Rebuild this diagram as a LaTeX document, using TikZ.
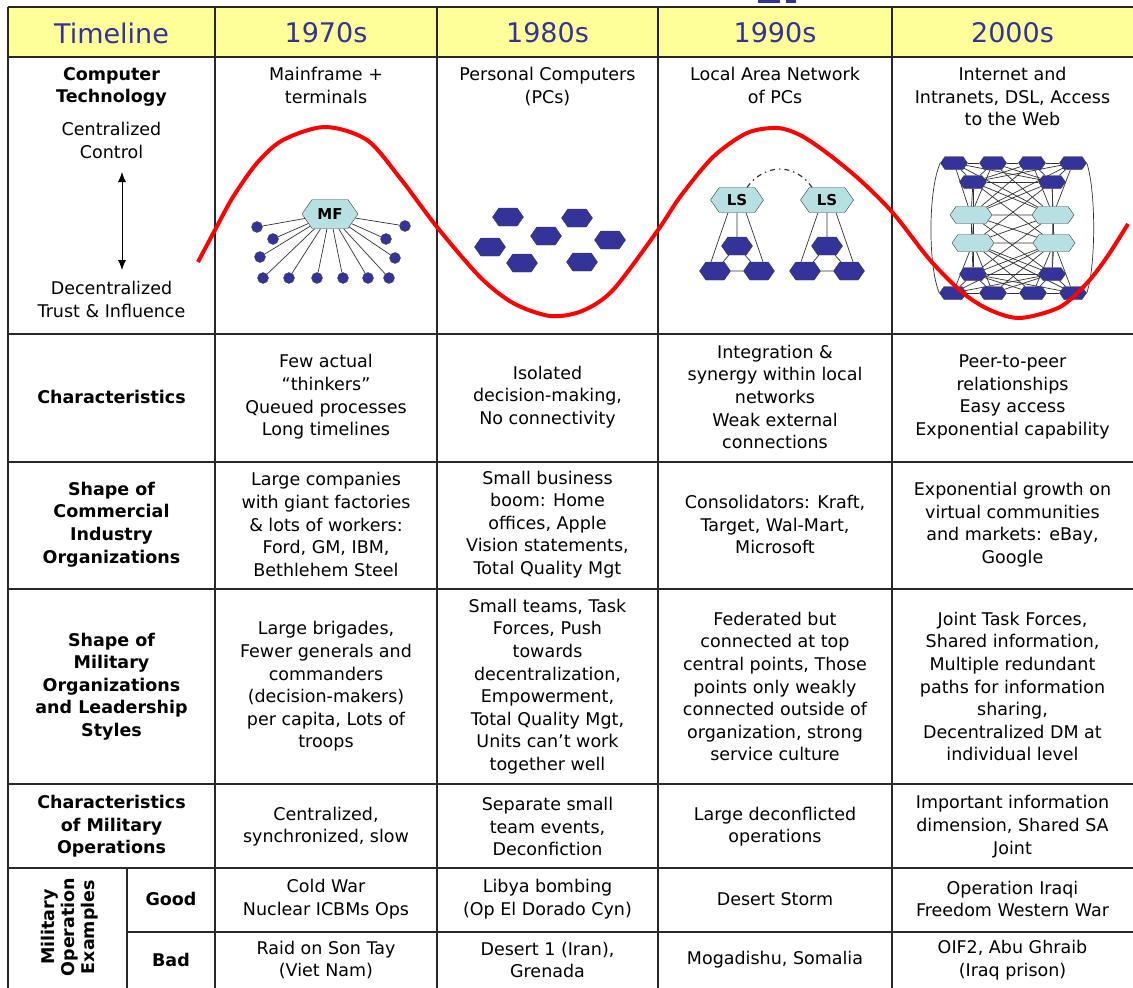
\documentclass[tikz,border=0pt]{standalone}
\usepackage{fontspec}
\setmainfont{DejaVu Sans}
\usetikzlibrary{shapes.symbols,arrows.meta}
\definecolor{headyellow}{RGB}{255,255,153}
\definecolor{headblue}{RGB}{51,51,153}
\definecolor{pcblue}{RGB}{51,51,153}
\definecolor{lsblue}{RGB}{183,224,226}
\definecolor{gridgray}{RGB}{40,40,40}
\pgfdeclarelayer{bg}
\pgfsetlayers{bg,main}

\begin{document}
\begin{tikzpicture}[x=1pt,y=-1pt,
	txt/.style={align=center,inner sep=0pt,font=\fontsize{17.5}{22.6}\selectfont},
	rowhead/.style={align=center,inner sep=0pt,font=\bfseries\fontsize{17.5}{22.6}\selectfont},
	year/.style={inner sep=0pt,text=headblue,font=\fontsize{27}{30}\selectfont},
	grid/.style={gridgray,line width=1.4pt},
	hex/.style={signal,signal to=east and west,signal pointer angle=110,draw=black!75,inner sep=0pt},
	pc/.style={hex,fill=pcblue,minimum width=31pt,minimum height=18pt},
	mh/.style={hex,fill=pcblue,minimum width=27pt,minimum height=13pt},
	lh/.style={hex,fill=lsblue,minimum width=42pt,minimum height=17pt},
	ls/.style={hex,fill=lsblue,minimum width=53pt,minimum height=25pt,font=\bfseries\fontsize{15}{15}\selectfont},
	term/.style={circle,fill=pcblue,draw=black!70,minimum size=11pt,inner sep=0pt},
	link/.style={black!80,line width=0.7pt}]
	\useasboundingbox (0,0) rectangle (1133,988);
	\begin{pgfonlayer}{bg}
		\fill[white] (0,0) rectangle (1133,988);
		\fill[headyellow] (8,7) rectangle (1133,57);
	\end{pgfonlayer}
	\fill[headblue] (758,0) rectangle (780,3);
	\fill[headblue] (786,0) rectangle (796,3);
	
	\node[year] (h0) at (111.5,33) {Timeline};
	\node[year] (h1) at (326,33) {1970s};
	\node[year] (h2) at (547.5,33) {1980s};
	\node[year] (h3) at (775,33) {1990s};
	\node[year] (h4) at (1012.5,33) {2000s};
	
	\node[rowhead,anchor=north] (comp) at (111.5,67) {Computer\\Technology};
	\node[txt,anchor=north] (cent) at (111.5,122) {Centralized\\Control};
	\node[txt,anchor=north] (decent) at (111.5,281) {Decentralized\\Trust \& Influence};
	\coordinate (up) at (122,172);
	\coordinate (down) at (122,270);
	\draw[thick,{Latex[length=10pt,width=8pt]}-{Latex[length=10pt,width=8pt]}] (up) -- (down);
	\node[txt,anchor=north] (tech1) at (326,67) {Mainframe +\\terminals};
	\node[txt,anchor=north] (tech2) at (547.5,67) {Personal Computers\\(PCs)};
	\node[txt,anchor=north] (tech3) at (775,67) {Local Area Network\\of PCs};
	\node[txt,anchor=north] (tech4) at (1012.5,67) {Internet and\\Intranets, DSL, Access\\to the Web};
	
	\node[hex,fill=lsblue,minimum width=56pt,minimum height=29pt,font=\bfseries\fontsize{15}{15}\selectfont] (mf) at (330,214) {MF};
	\node[term] (d1) at (257,227) {};
	\node[term] (d2) at (273,239) {};
	\node[term] (d3) at (260,257) {};
	\node[term] (d4) at (263,278) {};
	\node[term] (d5) at (289,278) {};
	\node[term] (d6) at (317,278) {};
	\node[term] (d7) at (343,278) {};
	\node[term] (d8) at (368,278) {};
	\node[term] (d9) at (389,278) {};
	\node[term] (d10) at (395,258) {};
	\node[term] (d11) at (386,239) {};
	\node[term] (d12) at (405,226) {};
	\begin{pgfonlayer}{bg}
		\foreach \d in {d1,d2,d3,d4,d5,d6,d7,d8,d9,d10,d11,d12}
			\draw[link] (mf) -- (\d);
	\end{pgfonlayer}
	
	\node[pc] (p1) at (508,217) {};
	\node[pc] (p2) at (577,218) {};
	\node[pc] (p3) at (546,236) {};
	\node[pc] (p4) at (490,247) {};
	\node[pc] (p5) at (610,240) {};
	\node[pc] (p6) at (522,263) {};
	\node[pc] (p7) at (582,262) {};
	
	\node[ls] (ls1) at (737,200) {LS};
	\node[pc] (a1) at (737,246) {};
	\node[pc] (a2) at (715,271) {};
	\node[pc] (a3) at (759,271) {};
	\node[ls] (ls2) at (827,200) {LS};
	\node[pc] (b1) at (827,246) {};
	\node[pc] (b2) at (805,271) {};
	\node[pc] (b3) at (849,271) {};
	\begin{pgfonlayer}{bg}
		\draw[link] ([xshift=-9pt]ls1.south) -- ([xshift=-4pt]a2.north);
		\draw[link] (ls1) -- (a1);
		\draw[link] ([xshift=9pt]ls1.south) -- ([xshift=4pt]a3.north);
		\draw[link] (a1) -- (a2) -- (a3) -- (a1);
		\draw[link] ([xshift=-9pt]ls2.south) -- ([xshift=-4pt]b2.north);
		\draw[link] (ls2) -- (b1);
		\draw[link] ([xshift=9pt]ls2.south) -- ([xshift=4pt]b3.north);
		\draw[link] (b1) -- (b2) -- (b3) -- (b1);
	\end{pgfonlayer}
	\draw[link,line width=1.2pt,dash pattern=on 5pt off 4pt on 1.5pt off 4pt] ([xshift=10pt]ls1.north) .. controls (765,163) and (795,163) .. ([xshift=-15pt]ls2.north);
	
	\node[mh] (t1) at (954,163) {};
	\node[mh] (t2) at (993,163) {};
	\node[mh] (t3) at (1032,163) {};
	\node[mh] (t4) at (1073,163) {};
	\node[mh] (s1) at (973,182) {};
	\node[mh] (s2) at (1052,182) {};
	\node[lh] (l1) at (971,215) {};
	\node[lh] (r1) at (1053,215) {};
	\node[lh] (l2) at (973,243) {};
	\node[lh] (r2) at (1054,243) {};
	\node[mh] (u1) at (973,274) {};
	\node[mh] (u2) at (1052,274) {};
	\node[mh] (w1) at (953,293) {};
	\node[mh] (w2) at (993,293) {};
	\node[mh] (w3) at (1033,293) {};
	\node[mh] (w4) at (1073,293) {};
	\begin{pgfonlayer}{bg}
		\foreach \a in {t1,t2,t3,t4,s1,s2}
			\foreach \b in {l1,r1}
				\draw[link] (\a) -- (\b);
		\foreach \a in {t1,t2,t3,t4}
			\foreach \b in {s1,s2}
				\draw[link] (\a) -- (\b);
		\foreach \a in {w1,w2,w3,w4,u1,u2}
			\foreach \b in {l2,r2}
				\draw[link] (\a) -- (\b);
		\foreach \a in {w1,w2,w3,w4}
			\foreach \b in {u1,u2}
				\draw[link] (\a) -- (\b);
		\foreach \a in {s1,s2}
			\foreach \b in {l2,r2}
				\draw[link] (\a) -- (\b);
		\foreach \a in {u1,u2}
			\foreach \b in {l1,r1}
				\draw[link] (\a) -- (\b);
		\draw[link] (t1) -- (t2) -- (t3) -- (t4);
		\draw[link] (w1) -- (w2) -- (w3) -- (w4);
		\draw[link] (s1) -- (s2);
		\draw[link] (u1) -- (u2);
		\draw[link] (l1) -- (r1) -- (r2) -- (l2) -- (l1);
		\draw[link] (l1) -- (r2);
		\draw[link] (r1) -- (l2);
		\draw[link] (t1.west) .. controls (928,190) and (928,266) .. (w1.west);
		\draw[link] (t4.east) .. controls (1096,190) and (1096,266) .. (w4.east);
	\end{pgfonlayer}
	
	\node[rowhead] (ch0) at (111.5,397) {Characteristics};
	\node[txt] (ch1) at (326,397) {Few actual\\“thinkers”\\Queued processes\\Long timelines};
	\node[txt] (ch2) at (547.5,397) {Isolated\\decision-making,\\No connectivity};
	\node[txt] (ch3) at (775,397) {Integration \&\\synergy within local\\networks\\Weak external\\connections};
	\node[txt] (ch4) at (1012.5,397) {Peer-to-peer\\relationships\\Easy access\\Exponential capability};
	
	\node[rowhead] (co0) at (111.5,524.5) {Shape of\\Commercial\\Industry\\Organizations};
	\node[txt] (co1) at (326,524.5) {Large companies\\with giant factories\\\& lots of workers:\\Ford, GM, IBM,\\Bethlehem Steel};
	\node[txt] (co2) at (547.5,524.5) {Small business\\boom: Home\\offices, Apple\\Vision statements,\\Total Quality Mgt};
	\node[txt] (co3) at (775,524.5) {Consolidators: Kraft,\\Target, Wal-Mart,\\Microsoft};
	\node[txt] (co4) at (1012.5,524.5) {Exponential growth on\\virtual communities\\and markets: eBay,\\Google};
	
	\node[rowhead] (mo0) at (111.5,686.5) {Shape of\\Military\\Organizations\\and Leadership\\Styles};
	\node[txt] (mo1) at (326,686.5) {Large brigades,\\Fewer generals and\\commanders\\(decision-makers)\\per capita, Lots of\\troops};
	\node[txt] (mo2) at (547.5,686.5) {Small teams, Task\\Forces, Push\\towards\\decentralization,\\Empowerment,\\Total Quality Mgt,\\Units can’t work\\together well};
	\node[txt] (mo3) at (775,686.5) {Federated but\\connected at top\\central points, Those\\points only weakly\\connected outside of\\organization, strong\\service culture};
	\node[txt] (mo4) at (1012.5,686.5) {Joint Task Forces,\\Shared information,\\Multiple redundant\\paths for information\\sharing,\\Decentralized DM at\\individual level};
	
	\node[rowhead] (op0) at (111.5,826.5) {Characteristics\\of Military\\Operations};
	\node[txt] (op1) at (326,826.5) {Centralized,\\synchronized, slow};
	\node[txt] (op2) at (547.5,826.5) {Separate small\\team events,\\Deconfiction};
	\node[txt] (op3) at (775,826.5) {Large deconflicted\\operations};
	\node[txt] (op4) at (1012.5,826.5) {Important information\\dimension, Shared SA\\Joint};
	
	\node[rowhead,rotate=90,font=\bfseries\fontsize{17.5}{20}\selectfont] (ex) at (70,927) {Military\\Operation\\Examples};
	\node[rowhead] (good) at (171,899) {Good};
	\node[txt] (g1) at (326,899) {Cold War\\Nuclear ICBMs Ops};
	\node[txt] (g2) at (547.5,899) {Libya bombing\\(Op El Dorado Cyn)};
	\node[txt] (g3) at (775,899) {Desert Storm};
	\node[txt] (g4) at (1012.5,899) {Operation Iraqi\\Freedom Western War};
	\node[rowhead] (bad) at (171,960) {Bad};
	\node[txt] (b1t) at (326,960) {Raid on Son Tay\\(Viet Nam)};
	\node[txt] (b2t) at (547.5,960) {Desert 1 (Iran),\\Grenada};
	\node[txt] (b3t) at (775,960) {Mogadishu, Somalia};
	\node[txt] (b4t) at (1012.5,960) {OIF2, Abu Ghraib\\(Iraq prison)};
	
	\draw[grid] (8,7) -- (1133,7);
	\draw[grid] (8,57) -- (1133,57);
	\draw[grid] (8,334) -- (1133,334);
	\draw[grid] (8,462) -- (1133,462);
	\draw[grid] (8,589) -- (1133,589);
	\draw[grid] (8,784) -- (1133,784);
	\draw[grid] (8,868) -- (1133,868);
	\draw[grid] (127,932) -- (1133,932);
	\draw[grid] (8,7) -- (8,988);
	\draw[grid] (215,7) -- (215,988);
	\draw[grid] (437,7) -- (437,988);
	\draw[grid] (658,7) -- (658,988);
	\draw[grid] (892,7) -- (892,988);
	\draw[grid] (127,868) -- (127,988);
	
	\draw[red,line width=4pt] plot[smooth,tension=0.5] coordinates {(198,262) (215,230) (233,197) (257,163) (283,140) (325,127) (367,140) (400,178) (437,227) (480,277) (513,303) (550,316) (582,311) (613,290) (658,230) (680,197) (713,157) (747,133) (777,128) (800,135) (827,153) (860,180) (893,213) (930,260) (963,293) (990,310) (1020,318) (1060,307) (1087,283) (1107,257) (1128,224)};
\end{tikzpicture}
\end{document}
